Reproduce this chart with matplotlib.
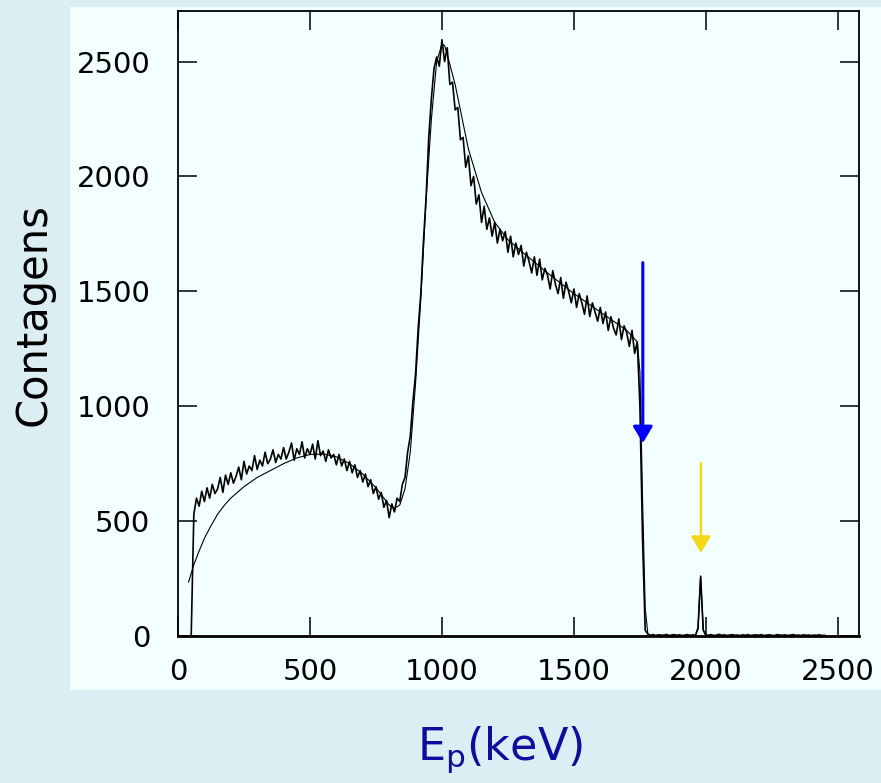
import numpy as np
import matplotlib
matplotlib.use("Agg")
import matplotlib.pyplot as plt
from matplotlib.patches import Rectangle

# measured spectrum, one value per 10 keV bin starting at 0 keV
counts = [
    0, 0, 0, 0, 0, 0, 530, 600, 565, 630,
    585, 645, 600, 660, 620, 640, 690, 625, 700, 660,
    710, 665, 695, 735, 680, 760, 705, 740, 720, 785,
    725, 765, 740, 800, 750, 770, 810, 755, 790, 770,
    820, 770, 800, 840, 765, 815, 790, 845, 775, 815,
    790, 835, 770, 850, 785, 805, 760, 810, 775, 790,
    745, 790, 740, 770, 720, 760, 710, 745, 690, 720,
    670, 705, 650, 680, 620, 650, 595, 625, 560, 590,
    515, 575, 540, 600, 585, 660, 690, 800, 870, 1020,
    1140, 1340, 1490, 1720, 1910, 2170, 2340, 2470, 2520, 2480,
    2595, 2500, 2560, 2400, 2410, 2290, 2300, 2160, 2170, 2040,
    2090, 1960, 2000, 1880, 1920, 1800, 1870, 1770, 1820, 1740,
    1800, 1710, 1770, 1720, 1760, 1670, 1740, 1650, 1710, 1660,
    1700, 1610, 1670, 1630, 1580, 1650, 1570, 1640, 1550, 1600,
    1570, 1510, 1590, 1530, 1490, 1560, 1470, 1540, 1500, 1450,
    1510, 1430, 1490, 1450, 1400, 1480, 1390, 1450, 1410, 1370,
    1430, 1360, 1410, 1330, 1390, 1340, 1310, 1380, 1290, 1350,
    1320, 1260, 1330, 1230, 1280, 1000, 420, 25, 8, 3,
    6, 2, 5, 4, 3, 7, 2, 4, 6, 3,
    5, 2, 4, 6, 3, 5, 2, 35, 258, 25,
    5, 3, 6, 2, 4, 7, 3, 5, 2, 4,
    6, 3, 4, 2, 5, 3, 6, 2, 4, 5,
    3, 6, 2, 4, 5, 3, 2, 6, 4, 3,
    5, 2, 4, 6, 3, 4, 2, 5, 3, 4,
    2, 4, 3, 5, 2, 3,
]
energy = np.arange(len(counts)) * 10

# fitted curve
fit_energy = [40, 60, 80, 100, 125, 150, 175, 200, 250, 300, 350, 400, 450,
              500, 550, 600, 650, 700, 750, 780, 800, 820, 840, 860, 880,
              900, 920, 940, 960, 980, 1000, 1010, 1020, 1050, 1100, 1150,
              1200, 1250, 1300, 1400, 1500, 1600, 1700, 1740, 1750, 1760,
              1770, 1780, 1790, 1960, 1970, 1975, 1980, 1985, 1990, 2000]
fit_counts = [235, 310, 370, 425, 480, 530, 568, 600, 650, 690, 720, 750, 775,
              790, 792, 780, 750, 705, 645, 600, 570, 555, 570, 640, 800,
              1100, 1470, 1900, 2250, 2500, 2575, 2570, 2530, 2400, 2120, 1930,
              1800, 1725, 1675, 1580, 1490, 1410, 1330, 1280, 1150, 600,
              120, 10, 0, 0, 30, 150, 262, 140, 25, 0]

# arrows: (x, start y, tip y)
blue_arrow = (1761, 1625, 840)
yellow_arrow = (1981, 752, 362)

fig = plt.figure(figsize=(8.81, 7.83), dpi=100, facecolor="#dbeef3")
panel = Rectangle((70 / 881, 93 / 783), 1 - 70 / 881, 683 / 783,
                  transform=fig.transFigure, facecolor="#f2fffe",
                  edgecolor="none", zorder=-10)
fig.add_artist(panel)

ax = fig.add_axes([178 / 881, 147 / 783, 681 / 881, 625 / 783])
ax.set_facecolor("#f2fffe")

ax.plot(energy, counts, color="black", lw=1.2)
ax.plot(fit_energy, fit_counts, color="black", lw=0.8)

for (x, y0, y1), c, lw in [(blue_arrow, "#0000ff", 2.2), (yellow_arrow, "#f2d818", 1.8)]:
    ax.annotate("", xy=(x, y1), xytext=(x, y0),
                arrowprops=dict(arrowstyle="-|>,head_length=0.5,head_width=0.3",
                                color=c, lw=lw, shrinkA=0, shrinkB=0,
                                mutation_scale=20))

ax.set_xlim(0, 2580)
ax.set_ylim(0, 2720)
ax.set_xticks([0, 500, 1000, 1500, 2000, 2500])
ax.set_yticks([0, 500, 1000, 1500, 2000, 2500])
ax.tick_params(direction="in", length=14, width=1.1, top=True, right=True,
               labelsize=21, colors="black")
ax.tick_params(axis="x", pad=16)
ax.tick_params(axis="y", pad=20)
for s in ax.spines.values():
    s.set_linewidth(1.3)
ax.spines["bottom"].set_linewidth(2)

fig.text(34 / 881, 1 - 315 / 783, "Contagens", rotation=90, ha="center",
         va="center", fontsize=30, color="black")
fig.text(500 / 881, 23 / 783, "E$_\\mathregular{p}$(keV)", ha="center",
         va="baseline", fontsize=32, color="#0d0d9e")

fig.savefig("out.png", dpi=100, facecolor=fig.get_facecolor())
